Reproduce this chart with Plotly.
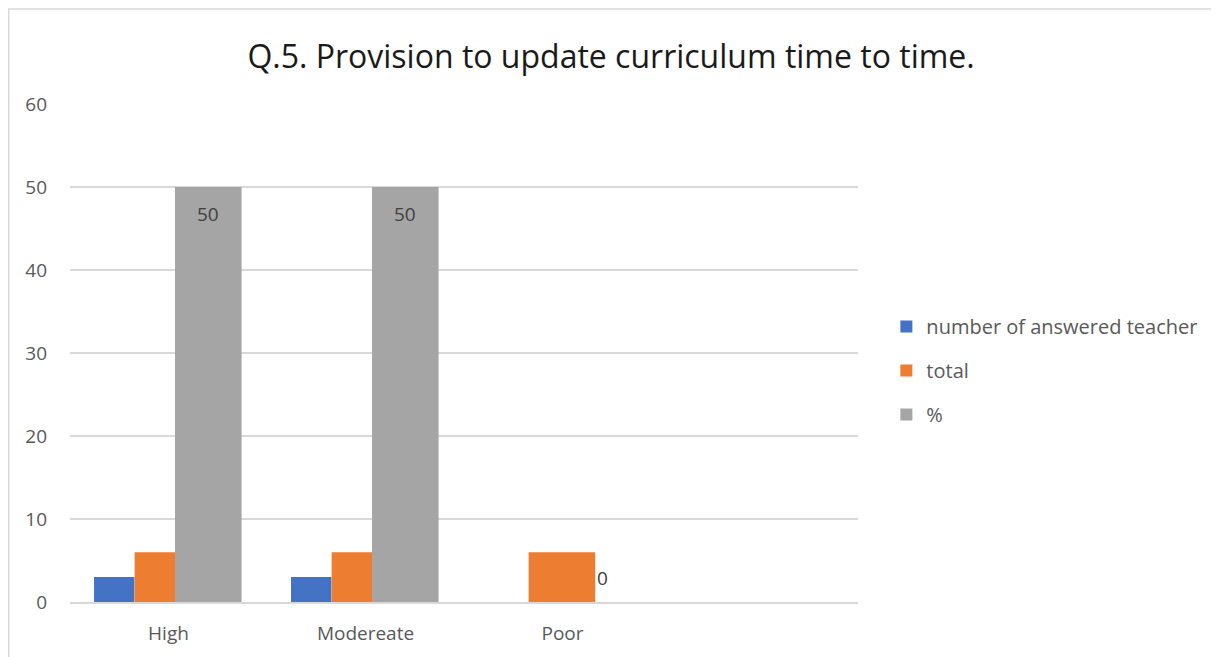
import plotly.graph_objects as go

categories = ["High", "Modereate", "Poor"]
answered = [3, 3, 0]
total = [6, 6, 6]
percent = [50, 50, 0]
series_names = ["number of answered teacher", "total", "%"]
y_ticks = [0, 10, 20, 30, 40, 50, 60]

colors = ["#4472C4", "#ED7D31", "#A5A5A5"]
FONT = "Open Sans"
TXT = "#595959"

# bar geometry (category units) - styling only
w_small = 0.205
w_wide = 0.338

W, H = 1211, 649
L, R, T, B = 62, 361, 96, 55
PW, PH = W - L - R, H - T - B

fig = go.Figure()
fig.add_trace(go.Bar(x=categories, y=answered, name=series_names[0],
                     marker=dict(color=colors[0], line=dict(width=0)),
                     offset=-0.378, width=[w_small] * 3, legendgroup="a"))
fig.add_trace(go.Bar(x=categories, y=total, name=series_names[1],
                     marker=dict(color=colors[1], line=dict(width=0)),
                     offset=-0.172, width=[w_small, w_small, w_wide], legendgroup="b"))
fig.add_trace(go.Bar(x=categories, y=percent, name=series_names[2],
                     marker=dict(color=colors[2], line=dict(width=0)),
                     offset=0.033, width=[w_wide] * 3, legendgroup="c"))

# data labels for % series
annotations = []
for i, v in enumerate(percent):
    annotations.append(dict(
        x=i + 0.033 + w_wide / 2, y=v, xref="x", yref="y",
        text=str(v), showarrow=False,
        yanchor="middle", yshift=(-27 if v > 0 else 24),
        font=dict(family=FONT, size=19, color="#404040")))

fig.update_layout(
    width=W, height=H,
    margin=dict(l=L, r=R, t=T, b=B),
    paper_bgcolor="white", plot_bgcolor="white",
    barmode="overlay",
    title=dict(text="Q.5. Provision to update curriculum time to time.",
               x=0.498, xanchor="center", y=0.9245, yanchor="middle",
               font=dict(family=FONT, size=32, color="#1a1a1a")),
    font=dict(family=FONT, size=19, color=TXT),
    xaxis=dict(type="category", categoryarray=categories, range=[-0.5, 3.5],
               showgrid=False, showline=True, linecolor="#d9d9d9", linewidth=1.5,
               ticks="", tickfont=dict(family=FONT, size=19, color=TXT),
               ticklabelstandoff=13, zeroline=False, fixedrange=True),
    yaxis=dict(range=[0, 60], tickvals=y_ticks, showgrid=True, gridcolor="#d9d9d9",
               gridwidth=1.5, showline=False, zeroline=False, ticks="",
               tickfont=dict(family=FONT, size=19, color=TXT),
               ticklabelstandoff=22),
    legend=dict(x=1.036, xanchor="left", y=0.465, yanchor="middle",
                font=dict(family=FONT, size=20, color=TXT),
                tracegroupgap=15, itemclick=False, itemdoubleclick=False),
    showlegend=True,
    annotations=annotations,
    shapes=[dict(type="rect", xref="paper", yref="paper",
                 x0=(0.75 - L) / PW, x1=(W + 40 - L) / PW,
                 y0=-(B + 40) / PH, y1=(PH + T - 1) / PH,
                 line=dict(color="#d9d9d9", width=1.5), fillcolor="rgba(0,0,0,0)",
                 layer="below")],
)

fig.write_html("out.html")
